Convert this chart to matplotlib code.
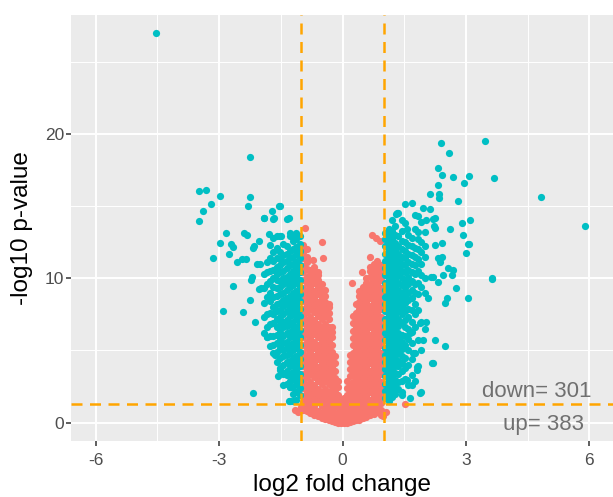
import matplotlib
matplotlib.use("Agg")
import matplotlib.pyplot as plt
from matplotlib.ticker import FixedLocator

plt.rcParams['font.family'] = ['Liberation Sans', 'DejaVu Sans']

# ---------------- data (log2 fold change, -log10 p-value) ----------------
# not significant genes (red), dense core read column by column
ns_col_x = [-0.96, -0.87, -0.78, -0.69, -0.60, -0.51, -0.42, -0.33, -0.25, -0.18, -0.11, -0.04,
            0.04, 0.11, 0.18, 0.25, 0.32, 0.40, 0.49, 0.58, 0.67, 0.76, 0.85, 0.94]
ns_col_y = [
    [0.9, 1.4, 1.85, 2.4, 2.9, 3.35, 3.9, 4.4, 4.85, 5.4, 5.9, 6.35, 6.9, 7.4, 7.85, 8.4, 8.9, 9.35, 9.9, 10.4, 10.85, 11.4, 11.8, 12.1],
    [0.8, 1.15, 1.65, 2.15, 2.6, 3.15, 3.65, 4.1, 4.65, 5.15, 5.6, 6.15, 6.65, 7.1, 7.65, 8.15, 8.6, 9.15, 9.65, 10.1, 10.65, 11.1, 11.5],
    [0.65, 1.0, 1.4, 1.9, 2.4, 2.85, 3.4, 3.9, 4.35, 4.9, 5.4, 5.85, 6.4, 6.9, 7.35, 7.9, 8.4, 8.85, 9.4, 9.9, 10.3, 10.6],
    [0.55, 0.9, 1.15, 1.65, 2.15, 2.6, 3.15, 3.65, 4.1, 4.65, 5.15, 5.6, 6.15, 6.65, 7.1, 7.65, 8.15, 8.6, 9.15, 9.65, 10.1, 10.5, 10.8],
    [0.45, 0.8, 1.4, 1.9, 2.35, 2.9, 3.4, 3.85, 4.4, 4.9, 5.35, 5.9, 6.4, 6.85, 7.4, 7.9, 8.35, 8.9, 9.4, 9.85, 10.2, 10.4],
    [0.35, 0.7, 1.15, 1.65, 2.1, 2.65, 3.15, 3.6, 4.15, 4.65, 5.1, 5.65, 6.15, 6.6, 7.15, 7.65, 8.1, 8.65, 9.15, 9.6],
    [0.25, 0.6, 0.95, 1.4, 1.9, 2.35, 2.9, 3.4, 3.85, 4.4, 4.9, 5.35, 5.9, 6.4, 6.85, 7.4, 7.9, 8.35, 8.8, 9.2],
    [0.15, 0.5, 0.9, 1.15, 1.65, 2.1, 2.65, 3.15, 3.6, 4.15, 4.65, 5.1, 5.65, 6.15, 6.6, 7.15, 7.6, 8.0, 8.2],
    [0.1, 0.4, 0.7, 1.0, 1.4, 1.9, 2.35, 2.9, 3.4, 3.85, 4.4, 4.9, 5.35, 5.9, 6.3, 6.6],
    [0.05, 0.35, 0.7, 1.15, 1.6, 2.1, 2.6, 3.1, 3.6, 4.1, 4.6],
    [0.0, 0.35, 0.7, 1.05, 1.5, 1.95, 2.45, 2.9],
    [0.0, 0.3, 0.65, 1.0, 1.35, 1.6],
    [0.0, 0.35, 0.7, 1.05, 1.4, 1.7],
    [0.0, 0.3, 0.65, 1.0, 1.45, 1.9, 2.4, 2.9],
    [0.05, 0.4, 0.8, 1.2, 1.65, 2.15, 2.65, 3.2, 3.7, 4.2, 4.7],
    [0.1, 0.45, 0.85, 1.35, 1.85, 2.35, 2.85, 3.35, 3.85, 4.35, 4.85, 5.35, 5.85, 6.35, 6.9, 7.4],
    [0.15, 0.5, 0.9, 1.1, 1.6, 2.1, 2.6, 3.1, 3.6, 4.1, 4.6, 5.1, 5.6, 6.1, 6.6, 7.1, 7.6, 8.2],
    [0.2, 0.55, 0.95, 1.35, 1.85, 2.35, 2.85, 3.35, 3.85, 4.35, 4.85, 5.35, 5.85, 6.35, 6.85, 7.35, 7.85, 8.35, 8.75, 9.1],
    [0.3, 0.7, 1.1, 1.6, 2.1, 2.6, 3.1, 3.6, 4.1, 4.6, 5.1, 5.6, 6.1, 6.6, 7.1, 7.6, 8.1, 8.6, 9.0, 9.4],
    [0.4, 0.8, 1.35, 1.85, 2.35, 2.85, 3.35, 3.85, 4.35, 4.85, 5.35, 5.85, 6.35, 6.85, 7.35, 7.85, 8.35, 8.85, 9.35, 9.7, 10.0],
    [0.5, 0.9, 1.1, 1.6, 2.1, 2.6, 3.1, 3.6, 4.1, 4.6, 5.1, 5.6, 6.1, 6.6, 7.1, 7.6, 8.1, 8.6, 9.1, 9.6, 10.1, 10.5, 10.8],
    [0.6, 0.95, 1.35, 1.85, 2.35, 2.85, 3.35, 3.85, 4.35, 4.85, 5.35, 5.85, 6.35, 6.85, 7.35, 7.85, 8.35, 8.85, 9.35, 9.85, 10.35, 10.7, 11.0],
    [0.75, 1.1, 1.6, 2.1, 2.6, 3.1, 3.6, 4.1, 4.6, 5.1, 5.6, 6.1, 6.6, 7.1, 7.6, 8.1, 8.6, 9.1, 9.6, 10.1, 10.6, 11.0, 11.2],
    [0.55, 0.9, 1.35, 1.85, 2.35, 2.85, 3.35, 3.85, 4.35, 4.85, 5.35, 5.85, 6.35, 6.85, 7.35, 7.85, 8.35, 8.85, 9.35, 9.85, 10.35, 10.7, 10.9],
]
ns_extra_x = [-0.91, -0.87, -0.95, -0.50, -0.47, -0.71, -0.99, -1.15, -1.07, -1.02,
              0.71, 0.81, 0.90, 0.67, 0.47, 0.22, 1.52, 1.05, 0.98]
ns_extra_y = [13.46, 12.0, 12.3, 12.5, 11.4, 11.27, 0.9, 0.88, 0.72, 1.1,
              13.0, 12.77, 12.6, 11.5, 10.46, 9.65, 1.3, 0.75, 0.45]

# down-regulated genes (teal, left)
down_col_x = [-1.04, -1.12, -1.20, -1.28, -1.36, -1.44, -1.52, -1.60, -1.68, -1.76, -1.84, -1.92]
down_col_y = [
    [1.9, 2.4, 2.9, 3.4, 3.9, 4.4, 4.9, 5.4, 5.9, 6.4, 6.9, 7.4, 7.9, 8.4, 8.9, 9.4, 9.9, 10.4, 10.9, 11.4, 11.9, 12.4, 12.9],
    [1.6, 2.15, 2.65, 3.15, 3.65, 4.15, 4.65, 5.15, 5.65, 6.15, 6.65, 7.15, 7.65, 8.15, 8.65, 9.15, 9.65, 10.15, 10.65, 11.15, 11.65, 12.15, 12.7, 13.1],
    [2.0, 2.5, 3.0, 3.5, 4.0, 4.5, 5.0, 5.5, 6.0, 6.5, 7.0, 7.5, 8.0, 8.5, 9.0, 9.5, 10.0, 10.5, 11.0, 11.5, 12.0, 12.6],
    [1.5, 2.5, 2.9, 3.4, 3.9, 4.3, 4.8, 5.4, 5.9, 6.3, 6.8, 7.4, 7.9, 8.3, 8.8, 9.4, 9.9, 10.3, 10.9, 11.4, 11.9, 12.9, 13.1],
    [2.7, 3.3, 3.6, 4.2, 4.7, 5.2, 5.6, 6.2, 6.7, 7.1, 7.7, 8.2, 8.6, 9.2, 9.7, 10.1, 10.7, 11.2, 11.7, 12.2],
    [3.4, 4.0, 4.6, 5.0, 5.5, 6.0, 6.6, 7.0, 7.5, 8.1, 8.5, 9.0, 9.6, 10.0, 10.5, 11.1, 11.6, 12.4],
    [3.8, 4.5, 5.2, 5.7, 6.3, 6.8, 7.3, 7.8, 8.3, 8.9, 9.4, 9.8, 10.4, 10.9, 11.3, 11.8, 12.9],
    [4.2, 4.9, 5.5, 6.1, 6.6, 7.2, 7.7, 8.2, 8.8, 9.3, 9.9, 10.3, 10.8, 11.4, 12.1],
    [4.8, 5.4, 6.0, 6.9, 7.5, 8.0, 8.7, 9.4, 10.0, 10.6, 11.2, 11.8, 12.8],
    [5.3, 6.0, 6.8, 7.6, 8.4, 9.0, 9.8, 10.5, 11.4, 12.3],
    [5.9, 6.6, 7.5, 8.7, 9.6, 10.4, 11.1],
    [6.2, 7.3, 8.3, 9.3, 10.3],
]
down_extra_x = [-4.53, -2.25, -3.48, -3.31, -2.97, -2.26, -3.19, -2.29, -3.38, -3.50,
                -1.52, -1.72, -1.90, -1.66, -1.31, -2.83, -2.33, -2.97, -2.71, -2.65,
                -2.04, -2.17, -1.78, -1.60, -1.50, -1.20, -2.75, -3.15, -2.45, -2.57,
                -2.08, -2.20, -2.65, -2.91, -2.42, -2.23, -2.25, -2.12, -2.02, -2.17,
                -1.29, -1.64, -1.52, -1.40, -1.27, -1.84, -1.92, -1.68, -1.55, -1.34,
                -2.40, -2.16, -2.35, -2.00, -1.98, -1.58, -1.45, -1.20]
down_extra_y = [26.97, 18.42, 16.07, 16.11, 15.70, 15.61, 15.15, 15.03, 14.68, 13.97,
                15.0, 14.66, 14.2, 14.2, 14.15, 13.16, 12.98, 12.47, 12.35, 12.19,
                12.58, 12.12, 13.05, 12.9, 12.95, 12.9, 11.68, 11.43, 11.34, 11.15,
                10.97, 10.11, 9.47, 7.74, 7.64, 9.88, 8.5, 6.99, 9.24, 2.08,
                1.5, 4.69, 3.65, 3.42, 2.5, 5.96, 14.2, 14.1, 15.0, 14.1,
                13.1, 12.2, 11.3, 11.0, 9.3, 3.2, 2.6, 1.5]

# up-regulated genes (teal, right)
up_col_x = [1.04, 1.12, 1.20, 1.28, 1.36, 1.44, 1.52, 1.60, 1.68, 1.76, 1.84, 1.92, 2.00]
up_col_y = [
    [1.7, 2.2, 2.7, 3.2, 3.7, 4.2, 4.7, 5.2, 5.7, 6.2, 6.7, 7.2, 7.7, 8.2, 8.7, 9.2, 9.7, 10.2, 10.7, 11.2, 11.7, 12.2, 12.7, 13.1],
    [1.5, 2.0, 2.45, 2.95, 3.45, 3.95, 4.45, 4.95, 5.45, 5.95, 6.45, 6.95, 7.45, 7.95, 8.45, 8.95, 9.45, 9.95, 10.45, 10.95, 11.45, 11.95, 12.45, 12.95, 13.4],
    [1.8, 2.2, 2.7, 3.2, 3.7, 4.2, 4.7, 5.2, 5.7, 6.2, 6.7, 7.2, 7.7, 8.2, 8.7, 9.2, 9.7, 10.2, 10.7, 11.2, 11.7, 12.2, 12.7, 13.3, 14.0],
    [2.0, 2.5, 2.95, 3.45, 3.95, 4.45, 4.95, 5.45, 5.95, 6.45, 6.95, 7.45, 7.95, 8.45, 8.95, 9.45, 9.95, 10.45, 10.95, 11.45, 11.95, 12.45, 13.0, 13.6],
    [2.3, 2.8, 3.4, 3.9, 4.3, 4.8, 5.3, 5.8, 6.2, 6.7, 7.2, 7.7, 8.2, 8.7, 9.2, 9.7, 10.2, 10.7, 11.2, 11.7, 12.2, 12.9, 14.5],
    [2.1, 2.9, 3.6, 4.1, 4.6, 5.1, 5.6, 6.1, 6.9, 7.5, 8.0, 8.5, 9.0, 9.5, 10.0, 10.5, 11.0, 11.5, 12.0, 12.6, 13.3],
    [3.0, 3.8, 4.5, 5.4, 6.0, 6.6, 7.1, 7.7, 8.3, 8.8, 9.3, 9.8, 10.4, 10.9, 11.4, 11.9, 12.5, 13.8, 15.15],
    [2.6, 4.0, 5.0, 5.8, 6.5, 7.3, 7.9, 8.5, 9.0, 9.6, 10.1, 10.6, 11.1, 11.7, 12.3, 13.0],
    [3.3, 4.4, 5.5, 6.3, 7.0, 7.8, 8.6, 9.2, 9.8, 10.4, 11.0, 11.6, 12.2, 12.8, 15.2],
    [2.9, 4.8, 6.6, 7.5, 8.2, 9.0, 9.6, 10.3, 10.9, 11.5, 12.1, 13.4],
    [3.9, 5.7, 7.8, 8.9, 9.7, 10.5, 11.3, 12.0, 12.7, 14.3],
    [5.0, 7.0, 9.4, 10.2, 11.0, 11.8, 12.5, 13.9],
    [6.5, 9.0, 10.0, 11.5, 12.2, 13.2],
]
up_extra_x = [2.39, 3.46, 2.59, 2.33, 2.43, 2.69, 3.08, 2.96, 3.69, 2.31,
              2.13, 2.35, 2.35, 2.81, 1.96, 2.12, 1.33, 3.10, 2.90, 2.61,
              2.92, 3.05, 3.01, 2.43, 2.41, 2.37, 2.57, 2.20, 3.64, 2.22,
              2.25, 4.83, 5.90, 3.63, 3.04, 2.77, 2.50, 2.19, 2.25, 2.49,
              2.53, 2.45, 2.69, 2.33, 3.08, 1.96, 2.04, 1.80, 1.90, 1.68,
              1.31, 1.44, 1.76, 2.04, 2.21, 1.56, 1.84, 2.25, 2.25, 2.33,
              2.16, 2.65, 1.88, 1.64, 2.17, 1.56, 1.88, 1.64, 1.44, 1.80,
              1.72, 2.08]
up_extra_y = [19.39, 19.5, 18.68, 17.62, 17.18, 17.0, 17.08, 16.58, 16.97, 16.46,
              15.84, 15.84, 15.56, 15.37, 14.85, 14.8, 14.5, 14.0, 13.8, 13.39,
              13.0, 12.35, 11.73, 12.42, 11.5, 11.15, 10.7, 10.1, 10.04, 13.6,
              14.15, 15.65, 13.62, 9.95, 8.61, 9.3, 5.31, 4.11, 5.73, 8.27,
              8.6, 10.23, 10.57, 9.77, 12.38, 5.73, 7.0, 3.88, 2.15, 2.61,
              14.47, 14.0, 14.36, 14.0, 14.1, 13.4, 13.2, 13.5, 12.3, 11.4,
              10.1, 10.2, 6.88, 6.2, 4.1, 2.96, 2.04, 1.7, 1.93, 3.65,
              4.8, 8.6]

x_ticks = [-6, -3, 0, 3, 6]
y_ticks = [0, 10, 20]
fc_cut = 1.0
p_cut = 1.3
n_down = 301
n_up = 383


def flatten(cx, cy):
    xs, ys = [], []
    for x, col in zip(cx, cy):
        xs.extend([x] * len(col))
        ys.extend(col)
    return xs, ys


ns_x, ns_y = flatten(ns_col_x, ns_col_y)
ns_x += ns_extra_x
ns_y += ns_extra_y
dn_x, dn_y = flatten(down_col_x, down_col_y)
dn_x += down_extra_x
dn_y += down_extra_y
up_x, up_y = flatten(up_col_x, up_col_y)
up_x += up_extra_x
up_y += up_extra_y

# ---------------- figure ----------------
W, H = 613, 497
fig = plt.figure(figsize=(W / 100, H / 100), dpi=100)
ax = fig.add_axes([71 / W, 1 - 441 / H, 543 / W, 426 / H])
ax.set_facecolor('#EBEBEB')
for s in ax.spines.values():
    s.set_visible(False)

ax.set_xlim(-6.6, 6.6)
ax.set_ylim(-1.27, 28.23)
ax.xaxis.set_major_locator(FixedLocator(x_ticks))
ax.yaxis.set_major_locator(FixedLocator(y_ticks))
ax.xaxis.set_minor_locator(FixedLocator([-4.5, -1.5, 1.5, 4.5]))
ax.yaxis.set_minor_locator(FixedLocator([5, 15, 25]))
ax.grid(which='major', color='white', linewidth=1.4)
ax.grid(which='minor', color='white', linewidth=0.7)
ax.set_axisbelow(True)
ax.tick_params(which='minor', length=0)
ax.tick_params(which='major', length=3.6, width=1.1, color='#333333',
               labelsize=12.5, labelcolor='#4D4D4D')
ax.tick_params(axis='x', pad=5)
ax.tick_params(axis='y', pad=1.5)
ax.set_xticklabels([str(t) for t in x_ticks])
ax.set_yticklabels([str(t) for t in y_ticks])

ms = 27
ax.scatter(ns_x, ns_y, s=ms, color='#F8766D', linewidths=0, zorder=2)
ax.scatter(dn_x, dn_y, s=ms, color='#00BFC4', linewidths=0, zorder=2)
ax.scatter(up_x, up_y, s=ms, color='#00BFC4', linewidths=0, zorder=2)

dash = (0, (4.4, 3.0))
for v in (-fc_cut, fc_cut):
    ax.axvline(v, color='#FFA500', linewidth=1.8, linestyle=dash, zorder=3)
ax.axhline(p_cut, color='#FFA500', linewidth=1.8, linestyle=dash, zorder=3)

ax.text(4.72, 2.15, f'down= {n_down}', ha='center', va='center',
        fontsize=16, color='#707070', zorder=4)
ax.text(4.89, -0.11, f'up= {n_up}', ha='center', va='center',
        fontsize=16, color='#707070', zorder=4)

fig.text(342.5 / W, 1 - 485 / H, 'log2 fold change', ha='center', va='center',
         fontsize=17.5, color='black')
fig.text(22 / W, 1 - 228 / H, '-log10 p-value', ha='center', va='center',
         rotation=90, fontsize=17.5, color='black')

fig.savefig('out.png', dpi=100, facecolor='white')
